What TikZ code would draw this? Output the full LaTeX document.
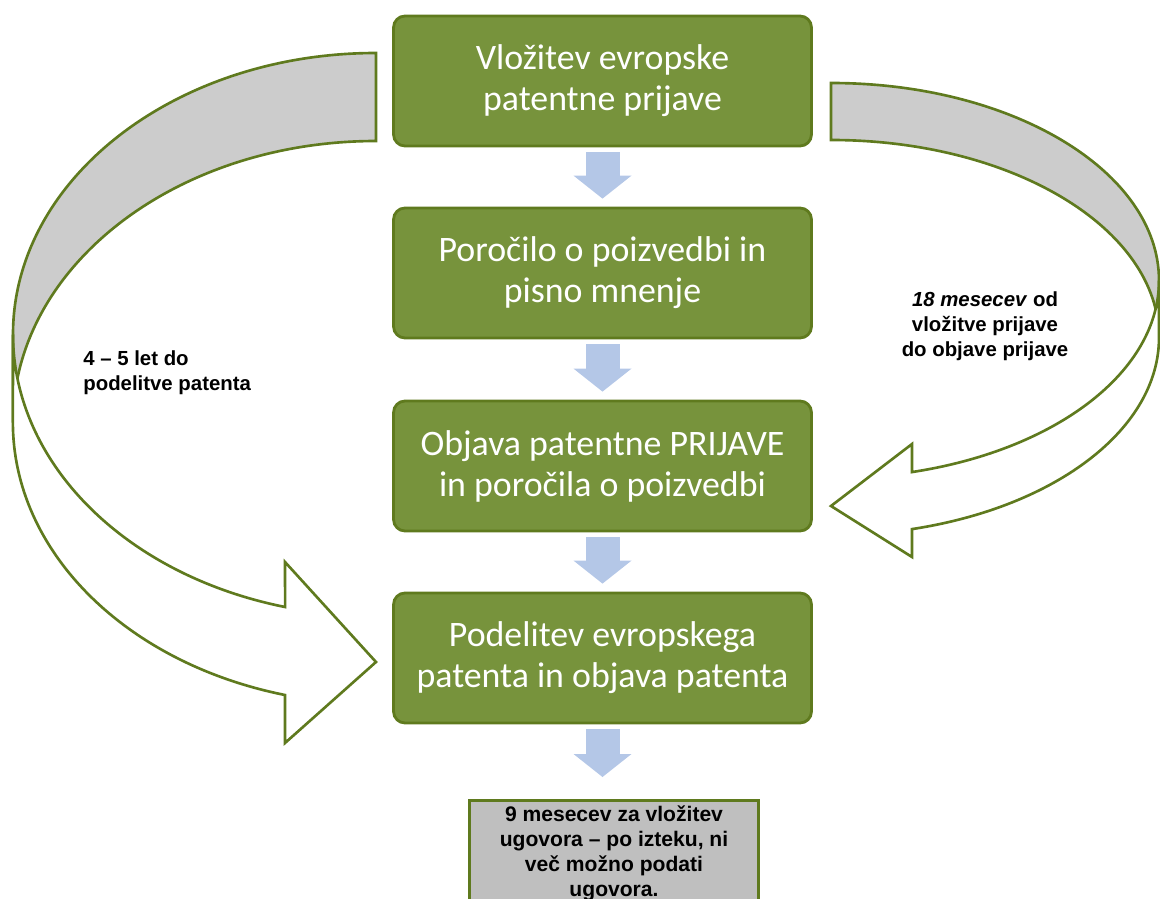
\documentclass[tikz,border=0pt]{standalone}
\usepackage{fontspec}
\setmainfont{Carlito}
\newfontfamily\labelfont{Liberation Sans}
\usetikzlibrary{arrows.meta}
\definecolor{boxgreen}{HTML}{77933C}
\definecolor{edgegreen}{HTML}{5F7A1E}
\definecolor{bandgray}{HTML}{CCCCCC}
\definecolor{notegray}{HTML}{BFBFBF}
\definecolor{flowblue}{HTML}{B4C7E7}
\begin{document}
\begin{tikzpicture}[x=0.02cm, y=-0.02cm,
  stagebox/.style={draw=edgegreen, line width=1.6pt, fill=boxgreen, rounded corners=6.5pt,
    minimum width=8.36cm, minimum height=2.6cm, align=center, text=white,
    font=\fontsize{20.4}{23.3}\selectfont},
  flow/.style={draw=flowblue, line width=0.68cm,
    -{Triangle[width=1.16cm,length=0.46cm,line width=0pt]},
    shorten <=0.1cm, shorten >=0.16cm},
  band/.style={draw=edgegreen, line width=1.5pt, line join=miter},
  lbl/.style={inner sep=0pt, font=\labelfont\bfseries\fontsize{11.6}{14.3}\selectfont},
  note/.style={draw=edgegreen, line width=1.7pt, fill=notegray, minimum width=5.8cm,
    inner ysep=3pt, align=center, font=\labelfont\bfseries\fontsize{12}{14.2}\selectfont}]
\useasboundingbox (0,0) rectangle (1160,899);
\draw [band, fill=bandgray] (376,53) arc[start angle=270, end angle=180, x radius=363, y radius=281.5]
  -- (13,422.5) arc[start angle=180, end angle=270, x radius=363, y radius=281.5] -- cycle;
\draw [band, fill=white] (13,334.5) arc[start angle=180, end angle=104.5, x radius=363, y radius=281.5]
  -- (285,562) -- (376,662) -- (285,743) -- (285,695)
  arc[start angle=104.5, end angle=180, x radius=363, y radius=281.5] -- cycle;
\draw [band, fill=bandgray] (831,83) arc[start angle=270, end angle=360, x radius=328, y radius=197.6]
  -- (1159,337.6) arc[start angle=0, end angle=-90, x radius=328, y radius=197.6] -- cycle;
\draw [band, fill=white] (1159,280.6) arc[start angle=0, end angle=75.7, x radius=328, y radius=197.6]
  -- (912,444) -- (831,506) -- (912,557) -- (912,529.1)
  arc[start angle=75.7, end angle=0, x radius=328, y radius=197.6] -- cycle;
\node [stagebox] (filing) at (602.5,81) {Vložitev evropske\\patentne prijave};
\node [stagebox] (search) at (602.5,273) {Poročilo o poizvedbi in\\pisno mnenje};
\node [stagebox] (publish) at (602.5,466) {Objava patentne PRIJAVE\\in poročila o poizvedbi};
\node [stagebox] (grant) at (602.5,658) {Podelitev evropskega\\patenta in objava patenta};
\node [note, anchor=north] (deadline) at (614,799) {9 mesecev za vložitev\\ugovora – po izteku, ni\\več možno podati\\ugovora.};
\coordinate (aftergrant) at (602.5,785);
\draw [flow] (filing) -- (search);
\draw [flow] (search) -- (publish);
\draw [flow] (publish) -- (grant);
\draw [flow] (grant) -- (aftergrant);
\node [lbl, anchor=west, align=left] (grantlbl) at (83,372.5) {4 – 5 let do\\podelitve patenta};
\node [lbl, align=center] (publbl) at (985,326) {\textit{18 mesecev} od\\vložitve prijave\\do objave prijave};
\end{tikzpicture}
\end{document}
